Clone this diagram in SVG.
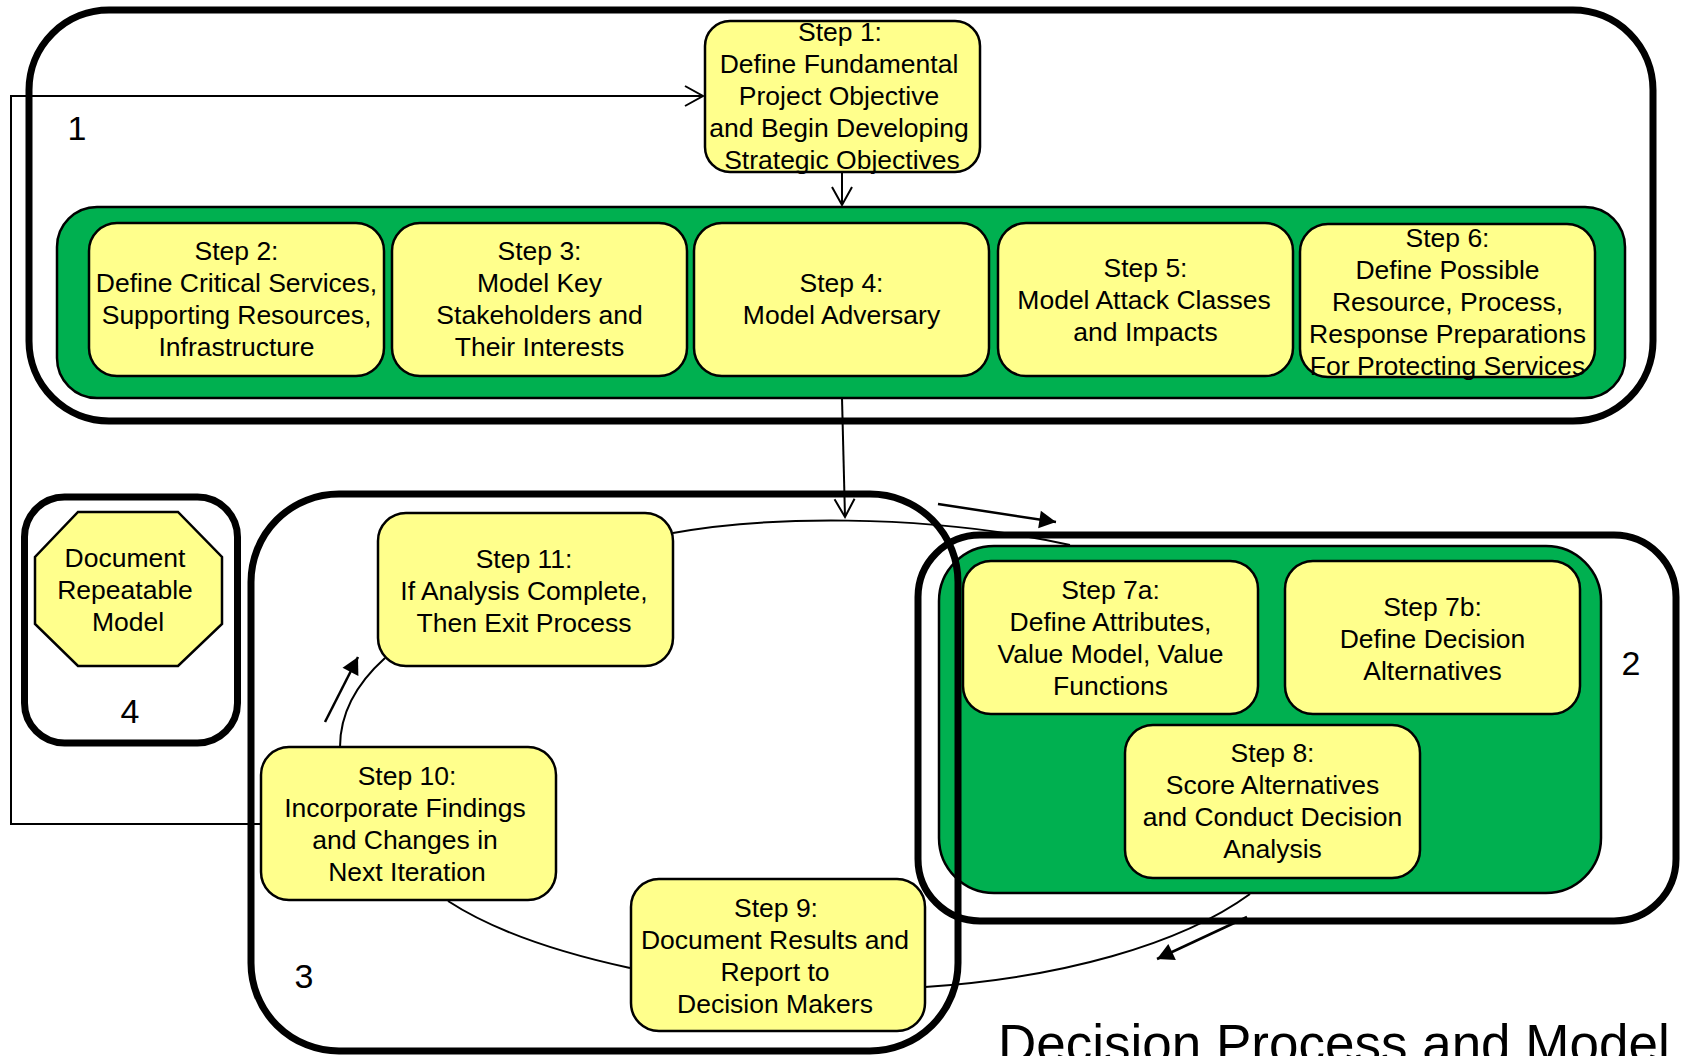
<svg xmlns="http://www.w3.org/2000/svg" width="1681" height="1056" viewBox="0 0 1681 1056">
<defs>
<style>
.grp{fill:none;stroke:#000;stroke-width:7}
.green{fill:#00B050;stroke:#000;stroke-width:2.5}
.step{fill:#FFFF8C;stroke:#000;stroke-width:2.5}
.t{font-family:"Liberation Sans",Arial,sans-serif;font-size:26.5px;fill:#000;text-anchor:middle}
.num{font-family:"Liberation Sans",Arial,sans-serif;font-size:34px;fill:#000;text-anchor:middle}
.ln{fill:none;stroke:#000;stroke-width:2}
.la{fill:none;stroke:#000;stroke-width:2.5}
</style>
<marker id="open" markerUnits="userSpaceOnUse" markerWidth="24" markerHeight="24" viewBox="-20 -12 22 24" refX="0" refY="0" orient="auto">
<path d="M-18,-10 L0,0 L-18,10" fill="none" stroke="#000" stroke-width="2"/>
</marker>
<marker id="solid" markerUnits="userSpaceOnUse" markerWidth="20" markerHeight="20" viewBox="-16 -9 17 18" refX="0" refY="0" orient="auto">
<path d="M-15,-8 L0,0 L-15,8 Z" fill="#000"/>
</marker>
</defs>
<rect x="0" y="0" width="1681" height="1056" fill="#fff"/>

<g id="group1">
<rect class="grp" x="29" y="10" width="1624" height="411" rx="80"/>
<rect class="green" x="57" y="207" width="1568" height="191" rx="40"/>
<text class="num" x="77" y="140">1</text>
</g>

<g id="step1">
<rect class="step" x="705" y="21" width="275" height="151" rx="25"/>
<text class="t" x="840" y="41">Step 1:</text>
<text class="t" x="839" y="73">Define Fundamental</text>
<text class="t" x="839" y="105">Project Objective</text>
<text class="t" x="839" y="137">and Begin Developing</text>
<text class="t" x="842" y="169">Strategic Objectives</text>
</g>

<g id="step2">
<rect class="step" x="89" y="223" width="295" height="153" rx="28"/>
<text class="t" x="236.5" y="260">Step 2:</text>
<text class="t" x="236.5" y="292">Define Critical Services,</text>
<text class="t" x="236.5" y="324">Supporting Resources,</text>
<text class="t" x="236.5" y="356">Infrastructure</text>
</g>

<g id="step3">
<rect class="step" x="392" y="223" width="295" height="153" rx="28"/>
<text class="t" x="539.5" y="260">Step 3:</text>
<text class="t" x="539.5" y="292">Model Key</text>
<text class="t" x="539.5" y="324">Stakeholders and</text>
<text class="t" x="539.5" y="356">Their Interests</text>
</g>

<g id="step4">
<rect class="step" x="694" y="223" width="295" height="153" rx="28"/>
<text class="t" x="841.5" y="292">Step 4:</text>
<text class="t" x="841.5" y="324">Model Adversary</text>
</g>

<g id="step5">
<rect class="step" x="998" y="223" width="295" height="153" rx="28"/>
<text class="t" x="1145.5" y="277">Step 5:</text>
<text class="t" x="1144" y="309">Model Attack Classes</text>
<text class="t" x="1145.5" y="341">and Impacts</text>
</g>

<g id="step6">
<rect class="step" x="1300" y="224" width="295" height="153" rx="28"/>
<text class="t" x="1447.5" y="247">Step 6:</text>
<text class="t" x="1447.5" y="279">Define Possible</text>
<text class="t" x="1447.5" y="311">Resource, Process,</text>
<text class="t" x="1447.5" y="343">Response Preparations</text>
<text class="t" x="1447.5" y="375">For Protecting Services</text>
</g>

<g id="group4">
<rect class="grp" x="24.5" y="497" width="213" height="246" rx="40"/>
<text class="num" x="130" y="723">4</text>
</g>

<g id="document-model">
<polygon class="step" points="78,512 178,512 222,557 222,624 178,666 78,666 35,624 35,557"/>
<text class="t" x="125" y="567">Document</text>
<text class="t" x="125" y="599">Repeatable</text>
<text class="t" x="128" y="631">Model</text>
</g>

<g id="group2">
<rect class="grp" x="918" y="535" width="758" height="386" rx="62"/>
<rect class="green" x="939" y="546" width="662" height="347" rx="55"/>
<text class="num" x="1631" y="675">2</text>
</g>

<g id="step7a">
<rect class="step" x="963" y="561" width="295" height="153" rx="28"/>
<text class="t" x="1110.5" y="599">Step 7a:</text>
<text class="t" x="1110.5" y="631">Define Attributes,</text>
<text class="t" x="1110.5" y="663">Value Model, Value</text>
<text class="t" x="1110.5" y="695">Functions</text>
</g>

<g id="step7b">
<rect class="step" x="1285" y="561" width="295" height="153" rx="28"/>
<text class="t" x="1432.5" y="616">Step 7b:</text>
<text class="t" x="1432.5" y="648">Define Decision</text>
<text class="t" x="1432.5" y="680">Alternatives</text>
</g>

<g id="step8">
<rect class="step" x="1125" y="725" width="295" height="153" rx="28"/>
<text class="t" x="1272.5" y="762">Step 8:</text>
<text class="t" x="1272.5" y="794">Score Alternatives</text>
<text class="t" x="1272.5" y="826">and Conduct Decision</text>
<text class="t" x="1272.5" y="858">Analysis</text>
</g>

<g id="group3">
<rect class="grp" x="251" y="494" width="707" height="557" rx="88"/>
<text class="num" x="304" y="988">3</text>
</g>

<g id="step11">
<rect class="step" x="378" y="513" width="295" height="153" rx="28"/>
<text class="t" x="524" y="568">Step 11:</text>
<text class="t" x="524" y="600">If Analysis Complete,</text>
<text class="t" x="524" y="632">Then Exit Process</text>
</g>

<g id="step10">
<rect class="step" x="261" y="747" width="295" height="153" rx="28"/>
<text class="t" x="407" y="785">Step 10:</text>
<text class="t" x="405" y="817">Incorporate Findings</text>
<text class="t" x="405" y="849">and Changes in</text>
<text class="t" x="407" y="881">Next Iteration</text>
</g>

<g id="step9">
<rect class="step" x="631" y="879" width="294" height="152" rx="28"/>
<text class="t" x="776" y="917">Step 9:</text>
<text class="t" x="775" y="949">Document Results and</text>
<text class="t" x="775" y="981">Report to</text>
<text class="t" x="775" y="1013">Decision Makers</text>
</g>

<g id="connectors">
<path class="ln" d="M842,172 V205" marker-end="url(#open)"/>
<path class="ln" d="M842,398 L845,517" marker-end="url(#open)"/>
<path class="ln" d="M261,824 H11 V96 H703" marker-end="url(#open)"/>
<path class="ln" d="M673,533 C760,517 920,512 1070,545"/>
<path class="ln" d="M1250,894 C1180,945 1060,978 925,987"/>
<path class="ln" d="M630,968 C570,955 500,935 448,901"/>
<path class="ln" d="M340,747 C340,715 355,685 385,658"/>
<path class="la" d="M938,504 L1056,522" marker-end="url(#solid)"/>
<path class="la" d="M1247,917 L1157,959" marker-end="url(#solid)"/>
<path class="la" d="M325,722 L358,657" marker-end="url(#solid)"/>
</g>

<text id="title" x="998" y="1062" font-family="Liberation Sans, Arial, sans-serif" font-size="53" fill="#000">Decision Process and Model</text>
</svg>
